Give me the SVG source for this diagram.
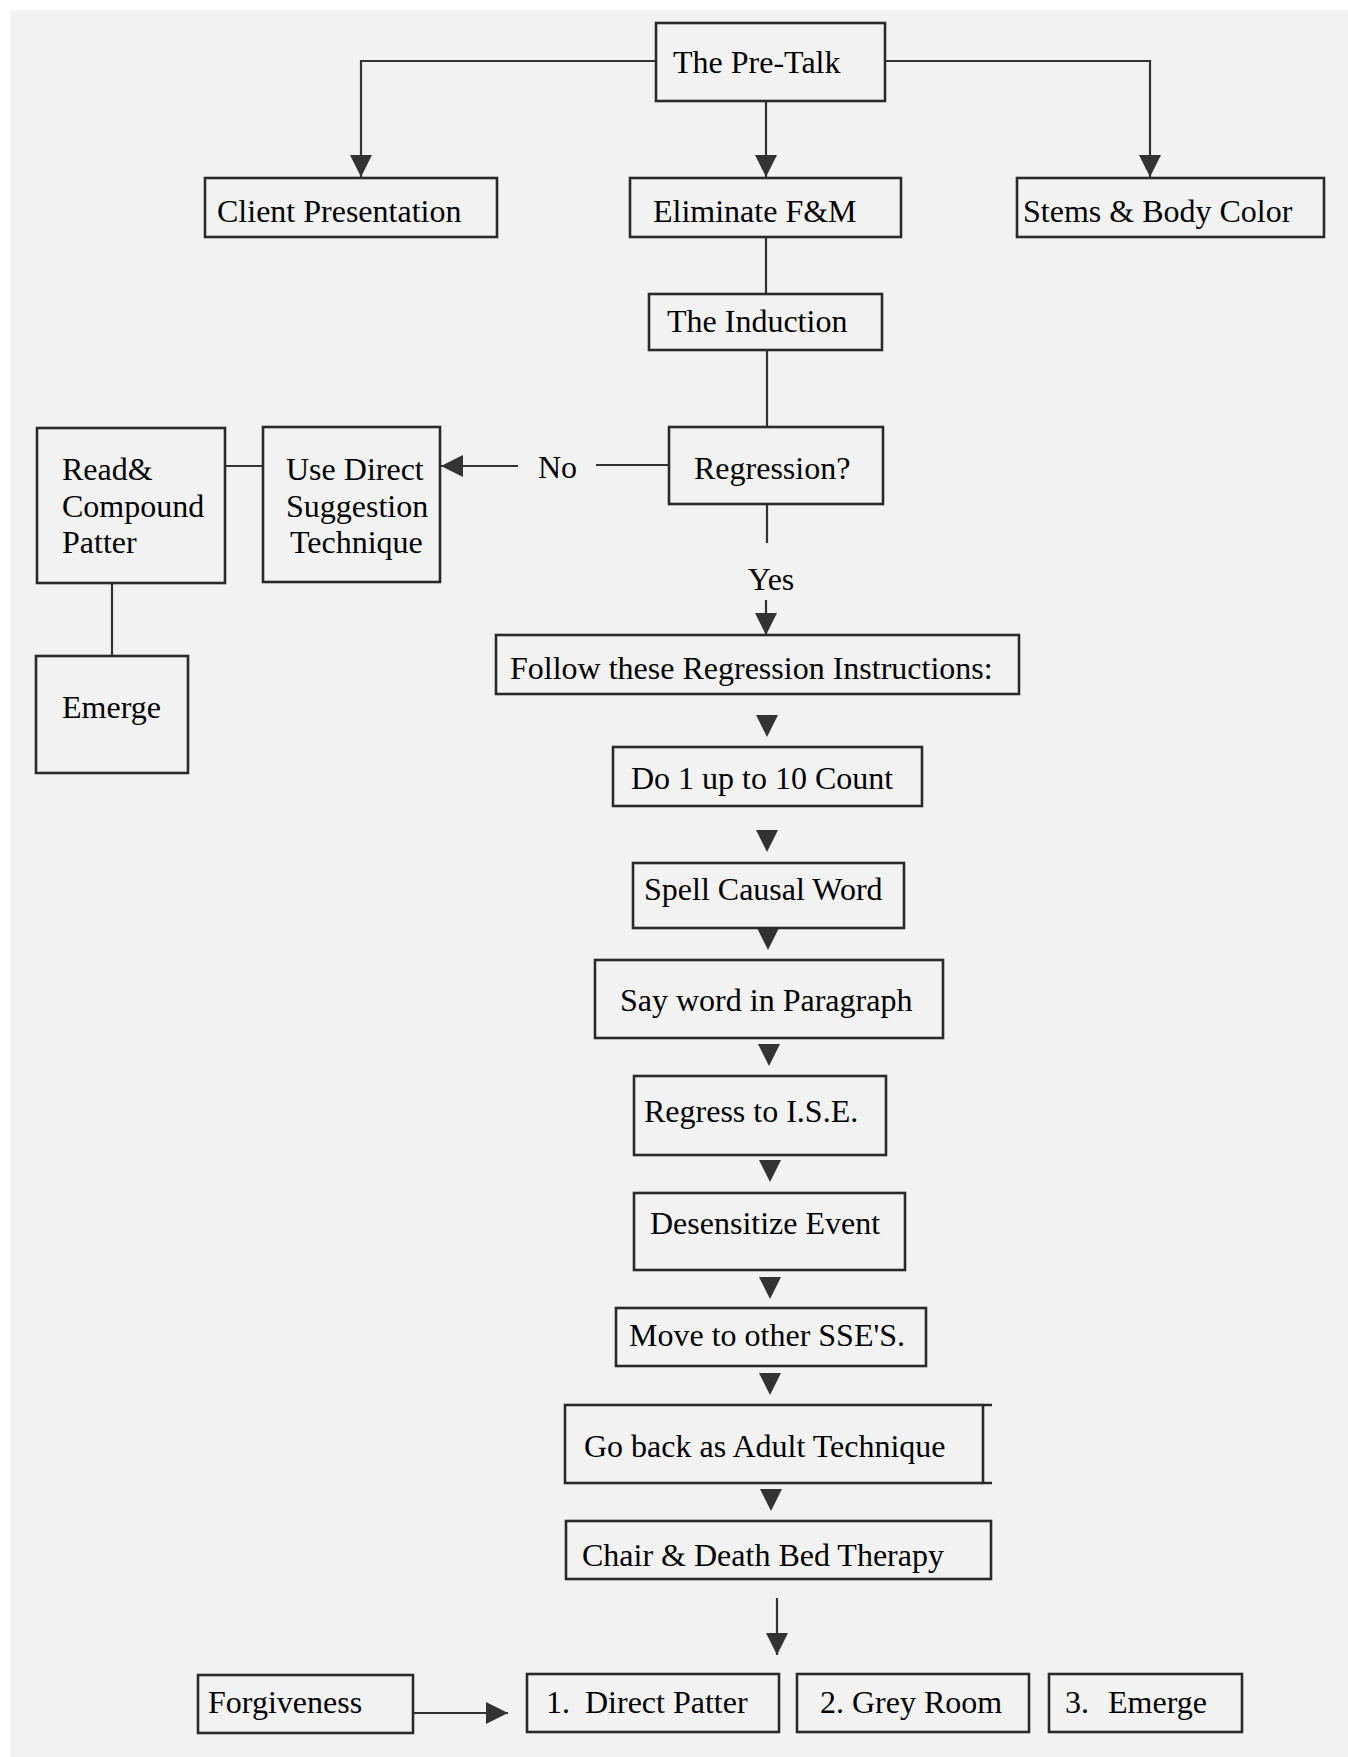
<svg xmlns="http://www.w3.org/2000/svg" xmlns:xlink="http://www.w3.org/1999/xlink" width="1348" height="1757" viewBox="0 0 1348 1757">
<style>
.box{fill:none;stroke:#2a2a2a;stroke-width:2.6}
.ln{fill:none;stroke:#333333;stroke-width:2.2}
.t{font-family:"Liberation Serif","Times New Roman",serif;font-size:32px;fill:#000}
.tri{fill:#333333}
</style>
<defs>
<marker id="ah" markerUnits="userSpaceOnUse" markerWidth="22" markerHeight="22" viewBox="0 0 22 22" refX="22" refY="11" orient="auto">
<path d="M0,0 L22,11 L0,22 z" fill="#333333"/>
</marker>
<polygon id="tri" points="-11,0 11,0 0,22"/>
</defs>
<rect x="0" y="0" width="1348" height="1757" fill="#ffffff"/>
<rect x="10" y="10" width="1338" height="1747" fill="#f2f2f2"/>

<g id="connectors">
<path class="ln" d="M656,61 H361 V177" marker-end="url(#ah)"/>
<path class="ln" d="M766,101 V177" marker-end="url(#ah)"/>
<path class="ln" d="M885,61 H1150 V177" marker-end="url(#ah)"/>
<path class="ln" d="M766,237 V294"/>
<path class="ln" d="M767,350 V427"/>
<path class="ln" d="M767,504 V543"/>
<path class="ln" d="M766,600 V635" marker-end="url(#ah)"/>
<path class="ln" d="M669,465 H596"/>
<path class="ln" d="M518,466 H441" marker-end="url(#ah)"/>
<path class="ln" d="M225,466 H263"/>
<path class="ln" d="M112,583 V656"/>
<path class="ln" d="M777,1598 V1655" marker-end="url(#ah)"/>
<path class="ln" d="M413,1713 H508" marker-end="url(#ah)"/>
<use xlink:href="#tri" class="tri" x="767" y="715"/>
<use xlink:href="#tri" class="tri" x="767" y="830"/>
<use xlink:href="#tri" class="tri" x="768" y="928"/>
<use xlink:href="#tri" class="tri" x="769" y="1044"/>
<use xlink:href="#tri" class="tri" x="770" y="1160"/>
<use xlink:href="#tri" class="tri" x="770" y="1277"/>
<use xlink:href="#tri" class="tri" x="770" y="1373"/>
<use xlink:href="#tri" class="tri" x="771" y="1489"/>
<text class="t" x="538" y="478">No</text>
<text class="t" x="771" y="590" text-anchor="middle">Yes</text>
</g>

<g id="pretalk"><rect class="box" x="656" y="23" width="229" height="78"/><text class="t" x="673" y="73">The Pre-Talk</text></g>
<g id="client"><rect class="box" x="205" y="178" width="292" height="59"/><text class="t" x="217" y="222">Client Presentation</text></g>
<g id="eliminate"><rect class="box" x="630" y="178" width="271" height="59"/><text class="t" x="653" y="222">Eliminate F&amp;M</text></g>
<g id="stems"><rect class="box" x="1017" y="178" width="307" height="59"/><text class="t" x="1023" y="222">Stems &amp; Body Color</text></g>
<g id="induction"><rect class="box" x="649" y="294" width="233" height="56"/><text class="t" x="667" y="332">The Induction</text></g>
<g id="regression"><rect class="box" x="669" y="427" width="214" height="77"/><text class="t" x="694" y="479">Regression?</text></g>
<g id="usedirect"><rect class="box" x="263" y="427" width="177" height="155"/><text class="t" x="286" y="480">Use Direct</text><text class="t" x="286" y="517">Suggestion</text><text class="t" x="290" y="553">Technique</text></g>
<g id="readcompound"><rect class="box" x="37" y="428" width="188" height="155"/><text class="t" x="62" y="480">Read&amp;</text><text class="t" x="62" y="517">Compound</text><text class="t" x="62" y="553">Patter</text></g>
<g id="emerge-left"><rect class="box" x="36" y="656" width="152" height="117"/><text class="t" x="62" y="718">Emerge</text></g>
<g id="follow"><rect class="box" x="496" y="635" width="523" height="59"/><text class="t" x="510" y="679">Follow these Regression Instructions:</text></g>
<g id="count"><rect class="box" x="613" y="747" width="309" height="59"/><text class="t" x="631" y="789">Do 1 up to 10 Count</text></g>
<g id="spell"><rect class="box" x="633" y="863" width="271" height="65"/><text class="t" x="644" y="900">Spell Causal Word</text></g>
<g id="sayword"><rect class="box" x="595" y="960" width="348" height="78"/><text class="t" x="620" y="1011">Say word in Paragraph</text></g>
<g id="regress"><rect class="box" x="634" y="1076" width="252" height="79"/><text class="t" x="644" y="1122">Regress to I.S.E.</text></g>
<g id="desensitize"><rect class="box" x="634" y="1193" width="271" height="77"/><text class="t" x="650" y="1234">Desensitize Event</text></g>
<g id="move"><rect class="box" x="616" y="1308" width="310" height="58"/><text class="t" x="629" y="1346">Move to other SSE'S.</text></g>
<g id="goback"><rect class="box" x="565" y="1405" width="418" height="78"/><path class="box" d="M983,1405 H992 M983,1483 H992"/><text class="t" x="584" y="1457">Go back as Adult Technique</text></g>
<g id="chair"><rect class="box" x="566" y="1521" width="425" height="58"/><text class="t" x="582" y="1566">Chair &amp; Death Bed Therapy</text></g>
<g id="forgiveness"><rect class="box" x="198" y="1675" width="215" height="58"/><text class="t" x="208" y="1713">Forgiveness</text></g>
<g id="directpatter"><rect class="box" x="527" y="1674" width="252" height="58"/><text class="t" x="546" y="1713">1.<tspan x="585">Direct Patter</tspan></text></g>
<g id="greyroom"><rect class="box" x="797" y="1674" width="232" height="58"/><text class="t" x="820" y="1713">2. Grey Room</text></g>
<g id="emerge-final"><rect class="box" x="1049" y="1674" width="193" height="58"/><text class="t" x="1065" y="1713">3.<tspan x="1108">Emerge</tspan></text></g>
</svg>
